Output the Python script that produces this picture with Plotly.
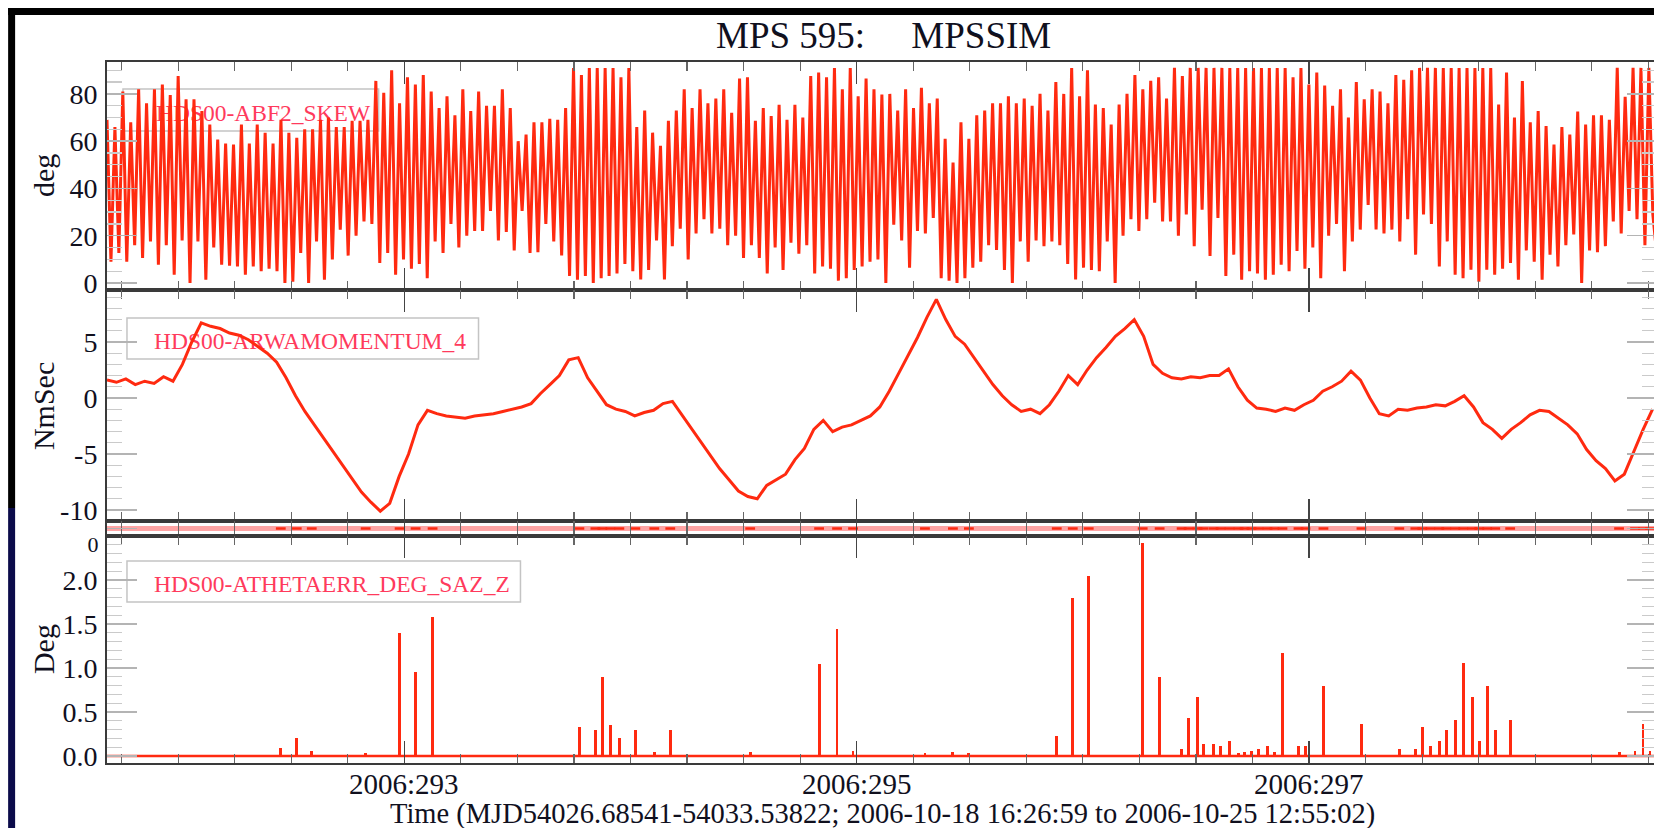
import plotly.graph_objects as go
from datetime import datetime, timedelta

# ---------------- data ----------------
T_START = "2006-10-18 16:26:59"
T_END = "2006-10-25 12:55:02"

# HDS00-ABF2_SKEW (deg), alternating peak / trough samples
SKEW_STEP_MIN = 25.17
skew_deg = [
    69, 9, 66, 12.7, 81, 9, 68, 16, 82, 10.6, 76, 17.6, 82, 7.7, 84, 16, 79.5, 3.5, 87.6, 18,
    77.7, 0, 77.7, 17.6, 72.8, 1.4, 67, 15, 60.7, 7.7, 59, 7.3, 58.6, 7, 67, 3.5, 59, 7, 67, 5,
    63.6, 6, 59, 5, 69, 0, 63.6, 0.5, 61.4, 12.7, 65, 0, 65, 17.6, 69, 1.4, 70, 10, 66, 22.6,
    66, 11.6, 68.6, 20, 68.6, 26, 69, 25, 85.5, 8.5, 80.5, 12.7, 90, 3.5, 76, 10, 87, 6, 84, 8,
    88, 2, 81, 17.6, 74, 12.7, 79, 25, 71, 15, 82, 20, 72.8, 22, 81, 22, 75, 30.5, 75, 18,
    82, 21.6, 74, 13.8, 60, 30.5, 62.8, 12.7, 68, 13, 68, 25, 69.5, 17.6, 69, 11.6, 74, 3, 91, 1.4,
    88, 3, 91, 0, 91, 2, 91, 3, 91, 4, 87, 8, 91, 5, 66, 1.5, 73, 5.5, 63.6, 18,
    58, 1.5, 68.6, 15.6, 73, 23, 82, 10, 74, 21, 82, 27, 76, 21, 78, 23, 82, 16, 72, 20,
    86.5, 10.6, 87, 16, 68.6, 10.6, 74, 4, 70.6, 15, 75.4, 5.5, 69, 17, 75.4, 12.4, 70, 16, 87.6, 4,
    89, 7, 87, 6, 91, 1, 82, 2, 91, 5.5, 79, 7, 86.5, 9, 82, 10, 79.7, 0, 80, 24.7,
    73, 18, 82, 6.5, 74, 22, 82.6, 21, 76, 27.5, 78, 2, 61, 1, 51, 0, 68, 2, 61, 6.5,
    71, 9, 73, 16, 76, 14, 76, 5.5, 79, 0, 76, 17.6, 78, 9, 75, 18, 80, 15.6, 73, 17.6,
    85, 16, 80, 8, 91, 1.5, 79, 6.5, 90, 5.5,
    75.5, 5, 74, 17.6, 67, 0, 75.5, 20, 80, 27, 88, 22, 82, 27, 85.5, 34, 87, 26, 78, 26,
    91, 20, 87.6, 29, 91, 15.6, 91, 31, 91, 11.4, 91, 27.5, 91, 3, 91, 12, 91, 1.4, 91, 5,
    91, 4, 91, 1.4, 91, 3.5, 91, 7.7, 91, 5, 87, 13.5, 91, 6, 84, 15, 89, 2, 83.5, 20,
    75, 25, 82, 5, 70, 17.6, 85, 22.6, 77.7, 33, 82, 22.6, 81, 21, 76, 22.6, 88, 17.6, 86, 27,
    90, 12, 91, 29, 91, 25, 91, 7, 91, 17.6, 91, 3.5, 91, 2, 91, 5.6, 91, 0.5, 91, 5.6,
    91, 3.5, 75.5, 6, 89, 8.5, 70, 1.4, 85.5, 13.8, 68, 9, 72.8, 1.4, 66.4, 12, 58.6, 7, 66, 16,
    62.8, 20.5, 72.5, 0, 67, 13.8, 71, 13, 71, 15.6, 69, 26, 91, 21, 78.8, 30.5, 91, 27, 91, 16,
    91, 29, 12,
]

# HDS00-ARWAMOMENTUM_4 (NmSec), hourly samples
MOM_STEP_MIN = 60
momentum = [
    1.6, 1.4, 1.7, 1.2, 1.5, 1.3, 1.9, 1.5, 3.0, 5.0,
    6.7, 6.4, 6.2, 5.8, 5.6, 5.2, 4.6, 4.0, 3.2, 1.8,
    0.2, -1.2, -2.4, -3.6, -4.8, -6.0, -7.2, -8.4, -9.3, -10.1,
    -9.4, -7.0, -5.0, -2.4, -1.1, -1.4, -1.6, -1.7, -1.8, -1.6,
    -1.5, -1.4, -1.2, -1.0, -0.8, -0.5, 0.4, 1.2, 2.0, 3.4,
    3.6, 1.8, 0.6, -0.6, -1.0, -1.2, -1.6, -1.3, -1.1, -0.5,
    -0.3, -1.5, -2.8, -4.0, -5.2, -6.3, -7.3, -8.3, -8.8, -9.0,
    -7.8, -7.3, -6.8, -5.5, -4.5, -2.8, -2.0, -3.0, -2.6, -2.4,
    -2.0, -1.6, -0.8, 0.6, 2.2, 3.8, 5.4, 7.2, 8.8, 7.0,
    5.5, 4.8, 3.6, 2.4, 1.2, 0.2, -0.6, -1.2, -1.0, -1.4,
    -0.6, 0.6, 2.0, 1.2, 2.5, 3.6, 4.5, 5.5, 6.2, 7.0,
    5.5, 3.0, 2.2, 1.8, 1.7, 1.9, 1.8, 2.0, 2.0, 2.6,
    1.0, -0.2, -0.9, -1.0, -1.2, -0.9, -1.1, -0.6, -0.2, 0.6,
    1.0, 1.5, 2.4, 1.6, 0.0, -1.4, -1.6, -1.0, -1.1, -0.9,
    -0.8, -0.6, -0.7, -0.3, 0.2, -0.8, -2.2, -2.8, -3.6, -2.8,
    -2.2, -1.5, -1.1, -1.2, -1.8, -2.4, -3.2, -4.6, -5.6, -6.3,
    -7.4, -6.8, -4.8, -2.8, -1.0,
]

# HDS00-ATHETAERR_DEG_SAZ_Z (Deg) spikes: day-of-year, height
spike_doy = [
    292.4537, 292.5243, 292.5906, 292.8290, 292.9791, 293.0498, 293.1249,
    293.7739, 293.8446, 293.8755, 293.9108, 293.9506, 294.0212, 294.1051, 294.1757,
    294.5290, 294.8337, 294.9131, 294.9838, 295.3017, 295.4253, 295.4960,
    295.8845, 295.9552, 296.0258, 296.2643, 296.3393, 296.4365, 296.4674, 296.5071,
    296.5336, 296.5778, 296.6087, 296.6484, 296.6880, 296.7147, 296.7454, 296.7765,
    296.8162, 296.8471, 296.8824, 296.9532, 296.9840, 297.0635, 297.2316, 297.3989,
    297.4697, 297.5006, 297.5360, 297.5757, 297.6066, 297.6463, 297.6817, 297.7214,
    297.7524, 297.7877, 297.8230, 297.8890, 298.3705, 298.4411, 298.4764, 298.5074,
]
spike_deg = [
    0.09, 0.20, 0.06, 0.03, 1.40, 0.95, 1.58,
    0.33, 0.30, 0.90, 0.35, 0.20, 0.30, 0.05, 0.30,
    0.05, 1.04, 1.44, 0.06, 0.03, 0.05, 0.03,
    0.23, 1.80, 2.05, 2.42, 0.90, 0.08, 0.43, 0.67,
    0.14, 0.14, 0.11, 0.17, 0.03, 0.04, 0.06, 0.08,
    0.11, 0.05, 1.17, 0.11, 0.11, 0.80, 0.36, 0.08,
    0.08, 0.33, 0.11, 0.17, 0.30, 0.41, 1.06, 0.67,
    0.17, 0.80, 0.30, 0.41, 0.05, 0.06, 0.36, 0.06,
]

x_tick_days = [293, 295, 297]
x_tick_text = ["2006:293", "2006:295", "2006:297"]
y1_ticks = [0, 20, 40, 60, 80]
y2_ticks = [-10, -5, 0, 5]
y4_ticks = [0, 0.5, 1.0, 1.5, 2.0]
y4_text = ["0.0", "0.5", "1.0", "1.5", "2.0"]

TITLE = "MPS 595:\u00a0\u00a0\u00a0\u00a0\u00a0MPSSIM"
XTITLE = "Time (MJD54026.68541-54033.53822; 2006-10-18 16:26:59 to 2006-10-25 12:55:02)"
NAMES = ["HDS00-ABF2_SKEW", "HDS00-ARWAMOMENTUM_4", "HDS00-ATHETAERR_DEG_SAZ_Z"]

# ---------------- helpers ----------------
def doy_to_dt(d):
    return datetime(2006, 1, 1) + timedelta(days=d - 1)

t0 = datetime.strptime(T_START, "%Y-%m-%d %H:%M:%S")
skew_t = [t0 + timedelta(minutes=SKEW_STEP_MIN * i) for i in range(len(skew_deg))]
mom_t = [t0 + timedelta(minutes=MOM_STEP_MIN * i) for i in range(len(momentum))]
spike_t = [doy_to_dt(d) for d in spike_doy]
tick_dt = [doy_to_dt(d) for d in x_tick_days]

RED = "#ff2a10"
FONT = "Liberation Serif"
TXT = "#10101e"

fig = go.Figure()
fig.add_trace(go.Scatter(x=skew_t, y=skew_deg, mode="lines", line=dict(color=RED, width=3),
                         xaxis="x", yaxis="y", showlegend=False))
fig.add_trace(go.Scatter(x=mom_t, y=momentum, mode="lines", line=dict(color=RED, width=3),
                         xaxis="x2", yaxis="y2", showlegend=False))
# thin flag strip
fig.add_trace(go.Scatter(x=[T_START, T_END], y=[0, 0], mode="lines",
                         line=dict(color="rgba(255,90,90,0.55)", width=5),
                         xaxis="x3", yaxis="y3", showlegend=False))
fig.add_trace(go.Scatter(x=spike_t, y=[0] * len(spike_t), mode="markers",
                         marker=dict(symbol="line-ew-open", size=7, color=RED,
                                     line=dict(color=RED, width=2.5)),
                         xaxis="x3", yaxis="y3", showlegend=False))
# attitude error
fig.add_trace(go.Scatter(x=[T_START, T_END], y=[0, 0], mode="lines",
                         line=dict(color=RED, width=2.5),
                         xaxis="x4", yaxis="y4", showlegend=False))
fig.add_trace(go.Bar(x=spike_t, y=spike_deg, width=1100000, marker=dict(color=RED, line=dict(width=0)),
                     xaxis="x4", yaxis="y4", showlegend=False))

TOP, BOT = 54, 755
def dom(a, b):
    return [(BOT - b) / (BOT - TOP), (BOT - a) / (BOT - TOP)]

doms = [dom(54, 282), dom(282, 513), dom(513, 528), dom(528, 755)]

def xaxis(i):
    return dict(
        type="date", range=[T_START, T_END], domain=[0, 1], anchor="y" if i == 1 else f"y{i}",
        showline=True, linecolor="#3a3a3a", linewidth=2, mirror="allticks",
        ticks="inside", ticklen=22, tickwidth=1.5, tickcolor="#444",
        tickvals=tick_dt, ticktext=x_tick_text, showticklabels=False,
        minor=dict(dtick=6 * 3600 * 1000, tick0="2006-10-18 00:00:00", ticks="inside",
                   ticklen=9, tickcolor="#666", tickwidth=1.2),
        showgrid=False, zeroline=False, fixedrange=True,
        matches=None if i == 1 else "x",
    )

def yaxis(i, rng, tv, tt=None, mdt=None):
    d = dict(
        domain=doms[i - 1], range=rng, anchor="x" if i == 1 else f"x{i}",
        showline=True, linecolor="#3a3a3a", linewidth=2, mirror="allticks",
        ticks="inside", ticklen=30, tickwidth=1.5, tickcolor="#b4b4b4",
        tickvals=tv, ticktext=tt if tt else [str(v) for v in tv],
        tickfont=dict(family=FONT, size=28, color=TXT), ticklabelstandoff=2,
        showgrid=False, zeroline=False, fixedrange=True,
    )
    if mdt:
        d["minor"] = dict(dtick=mdt, ticks="inside", ticklen=15, tickcolor="#cacaca", tickwidth=1.2)
    return d

layout = dict(
    width=1662, height=828,
    margin=dict(l=99, r=11, t=54, b=73),
    paper_bgcolor="white", plot_bgcolor="rgba(0,0,0,0)",
    bargap=0, hovermode=False, showlegend=False,
)
for i in range(1, 5):
    layout["xaxis" if i == 1 else f"xaxis{i}"] = xaxis(i)
layout["yaxis"] = yaxis(1, [-2.96, 93.5], y1_ticks, mdt=5)
layout["yaxis2"] = yaxis(2, [-10.98, 9.64], y2_ticks, mdt=1)
layout["yaxis3"] = yaxis(3, [-1, 1], [0], ["0"])
layout["yaxis3"]["tickfont"]["size"] = 22
layout["yaxis3"]["ticklabelposition"] = "outside bottom"
layout["yaxis4"] = yaxis(4, [-0.08, 2.5], y4_ticks, y4_text, mdt=0.1)
fig.update_layout(**layout)

def px2x(px):
    return (px - 99) / 1552.0
def py2y(py):
    return (BOT - py) / (BOT - TOP)

shapes = [
    dict(type="rect", xref="paper", yref="paper", x0=px2x(0), x1=px2x(1662), y0=py2y(0), y1=py2y(7),
         fillcolor="black", line=dict(width=0), layer="below"),
    dict(type="rect", xref="paper", yref="paper", x0=px2x(0), x1=px2x(7), y0=py2y(0), y1=py2y(500),
         fillcolor="black", line=dict(width=0), layer="below"),
    dict(type="rect", xref="paper", yref="paper", x0=px2x(0), x1=px2x(7), y0=py2y(500), y1=py2y(828),
         fillcolor="#0b0b4a", line=dict(width=0), layer="below"),
]
boxes = [("x", "y", 115, 371, 81, 123, 54, 282, 30),
         ("x2", "y2", 119, 471, 310, 351, 282, 513, 24),
         ("x4", "y4", 119, 513, 553, 594, 528, 755, 24)]
for (xa, ya, bx0, bx1, by0, by1, ptop, pbot, pad), name in zip(boxes, NAMES):
    hgt = pbot - ptop
    shapes.append(dict(
        type="rect", xref=f"{xa} domain", yref=f"{ya} domain",
        x0=(bx0 - 99) / 1552.0, x1=(bx1 - 99) / 1552.0,
        y0=(pbot - by1) / hgt, y1=(pbot - by0) / hgt,
        line=dict(color="#c4c4c4", width=1.5), fillcolor="rgba(0,0,0,0)", layer="below",
        label=dict(text=name, textposition="middle left", padding=pad,
                   font=dict(family=FONT, size=23.5, color="#ff3a5c")),
    ))
fig.update_layout(shapes=shapes)

ann = [
    dict(text=TITLE, x=px2x(877), y=py2y(27), xref="paper", yref="paper", showarrow=False,
         xanchor="center", yanchor="middle", font=dict(family=FONT, size=37, color=TXT)),
    dict(text=XTITLE, x=px2x(875), y=py2y(806), xref="paper", yref="paper", showarrow=False,
         xanchor="center", yanchor="middle", font=dict(family=FONT, size=28.5, color=TXT)),
]
for d, t in zip(tick_dt, x_tick_text):
    ann.append(dict(text=t, x=d, y=py2y(776), xref="x4", yref="paper", showarrow=False,
                    xanchor="center", yanchor="middle", font=dict(family=FONT, size=29, color=TXT)))
for label, cy in [("deg", 168), ("NmSec", 398), ("Deg", 641)]:
    ann.append(dict(text=label, x=px2x(35), y=py2y(cy), xref="paper", yref="paper", showarrow=False,
                    textangle=-90, xanchor="center", yanchor="middle",
                    font=dict(family=FONT, size=30, color=TXT)))
fig.update_layout(annotations=ann)

fig.write_html("out.html", config={"displayModeBar": False, "staticPlot": True})
